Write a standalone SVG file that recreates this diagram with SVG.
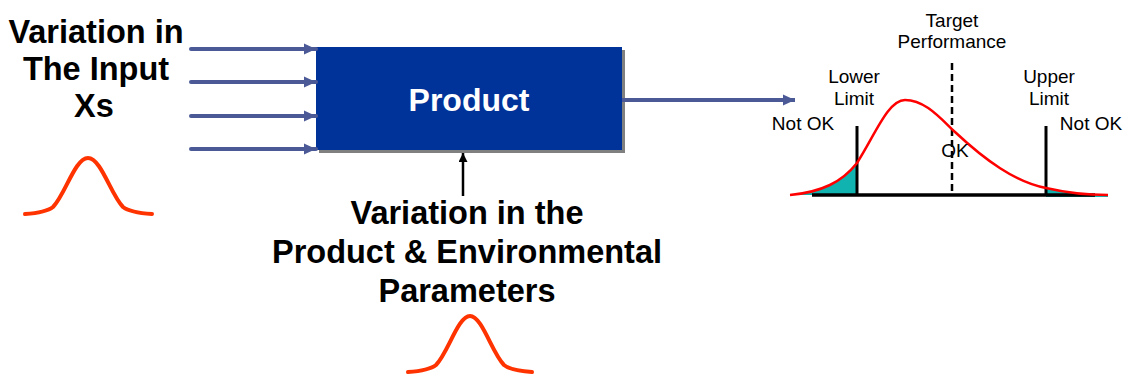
<svg xmlns="http://www.w3.org/2000/svg" width="1125" height="376" viewBox="0 0 1125 376">
<style>
.lbl{font-family:"Liberation Sans",Arial,sans-serif;font-weight:bold;font-size:32.5px;fill:#000;text-anchor:middle}
.sm{font-family:"Liberation Sans",Arial,sans-serif;font-size:19px;fill:#000;text-anchor:middle}
.in{stroke:#4B5A96;stroke-width:4;stroke-linecap:round;fill:none}
.bell{stroke:#FF3300;stroke-width:4;fill:none;stroke-linecap:round}
</style>
<defs>
<marker id="ah" markerUnits="userSpaceOnUse" markerWidth="12" markerHeight="12" viewBox="0 0 12 12" refX="12" refY="6" orient="auto">
<path d="M0,0.5 L12,6 L0,11.5 Z" fill="#4B5A96"/>
</marker>
<marker id="ahb" markerUnits="userSpaceOnUse" markerWidth="9" markerHeight="11" viewBox="0 0 9 11" refX="9" refY="4.5" orient="auto">
<path d="M0,0 L9,4.5 L0,9 Z" fill="#000"/>
</marker>
</defs>
<rect width="1125" height="376" fill="#fff"/>

<g id="input-label">
<text class="lbl" x="96" y="43">Variation in</text>
<text class="lbl" x="96" y="80">The Input</text>
<text class="lbl" x="94" y="117">Xs</text>
<path class="bell" d="M25,214 C40,213 48,211 53,207 C65,195 75,158 88,158 C101,158 111,195 123,207 C128,211 136,213 152,214"/>
</g>

<g id="product">
<rect x="319" y="50" width="306" height="103" fill="#808080"/>
<rect x="316" y="47" width="306" height="103" fill="#003399"/>
<text x="469" y="111" font-family="'Liberation Sans',Arial,sans-serif" font-weight="bold" font-size="32" fill="#fff" text-anchor="middle">Product</text>
</g>

<g id="env-label">
<text class="lbl" x="467" y="224">Variation in the</text>
<text class="lbl" x="467" y="263">Product &amp; Environmental</text>
<text class="lbl" x="467" y="302">Parameters</text>
<path class="bell" d="M408,372 C423,371 431,369 436,365 C448,353 458,316 470,316 C482,316 492,353 504,365 C509,369 517,371 532,372"/>
</g>

<g id="connectors">
<line class="in" x1="191" y1="49" x2="316" y2="49" marker-end="url(#ah)"/>
<line class="in" x1="191" y1="82" x2="316" y2="82" marker-end="url(#ah)"/>
<line class="in" x1="191" y1="116" x2="316" y2="116" marker-end="url(#ah)"/>
<line class="in" x1="191" y1="149" x2="316" y2="149" marker-end="url(#ah)"/>
<line x1="622" y1="100" x2="795" y2="100" stroke="#4B5A96" stroke-width="4" marker-end="url(#ah)"/>
<line x1="463" y1="196" x2="463" y2="153" stroke="#000" stroke-width="2.5" marker-end="url(#ahb)"/>
</g>

<g id="performance-chart">
<path d="M790,195 C822,192 842,182 857,163 L857,195 Z" fill="#11B3B0"/>
<path d="M1046,188 C1072,194 1095,195 1108,196 L1108,197 L1046,197 Z" fill="#11B3B0"/>
<line x1="952" y1="63" x2="952" y2="195" stroke="#000" stroke-width="2.5" stroke-dasharray="7,4"/>
<line x1="857" y1="126" x2="857" y2="195" stroke="#000" stroke-width="3"/>
<line x1="1046" y1="126" x2="1046" y2="195" stroke="#000" stroke-width="3"/>
<line x1="812" y1="195" x2="1095" y2="195" stroke="#000" stroke-width="3.5"/>
<path d="M790,195 C822,192 842,182 857,163 C875,135 888,100 905,100 C925,100 940,118 955,132 C985,160 1015,182 1046,188 C1072,194 1095,195 1108,195" fill="none" stroke="#FF0000" stroke-width="2.5"/>
<text class="sm" x="952" y="27">Target</text>
<text class="sm" x="952" y="48">Performance</text>
<text class="sm" x="854" y="83">Lower</text>
<text class="sm" x="854" y="105">Limit</text>
<text class="sm" x="1049" y="83">Upper</text>
<text class="sm" x="1049" y="105">Limit</text>
<text class="sm" x="803" y="130">Not OK</text>
<text class="sm" x="1091" y="130">Not OK</text>
<text class="sm" x="955" y="157">OK</text>
</g>
</svg>
